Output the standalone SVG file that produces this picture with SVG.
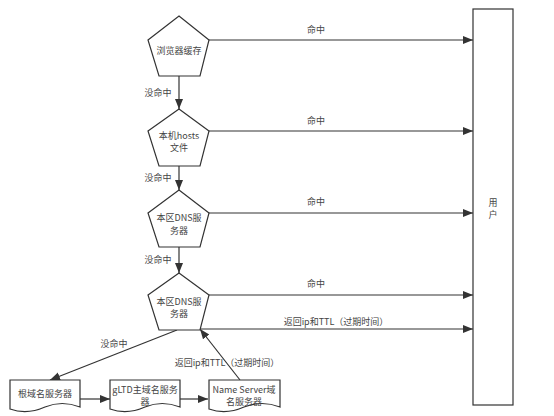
<svg xmlns="http://www.w3.org/2000/svg" width="554" height="416" viewBox="0 0 554 416">
<defs>
<marker id="ah" viewBox="0 0 10 10" refX="10" refY="5" markerWidth="10" markerHeight="10" markerUnits="userSpaceOnUse" orient="auto">
<path d="M0,1 L10,5 L0,9 Z" fill="#333"/>
</marker>
<style>
.shape{fill:#fff;stroke:#333;stroke-width:1.2}
.edge{fill:none;stroke:#333;stroke-width:1.2;marker-end:url(#ah)}
text{font-family:"Noto Sans CJK SC","Liberation Sans",sans-serif;font-size:9px;fill:#444;text-anchor:middle}
</style>
</defs>
<rect width="554" height="416" fill="#fff"/>
<g id="connectors">
<path class="edge" d="M209,40 H473"/>
<path class="edge" d="M179,76 V109"/>
<path class="edge" d="M209,131 H473"/>
<path class="edge" d="M179,166 V190"/>
<path class="edge" d="M209,213 H473"/>
<path class="edge" d="M179,247 V273"/>
<path class="edge" d="M209,295 H473"/>
<path class="edge" d="M200,329 H473"/>
<path class="edge" d="M177,330 L50,380"/>
<path class="edge" d="M80,399 H110"/>
<path class="edge" d="M180,399 H208"/>
<path class="edge" d="M240,380 L200,329"/>
<text x="316" y="33">命中</text>
<text x="316" y="124">命中</text>
<text x="316" y="205">命中</text>
<text x="316" y="287">命中</text>
<text x="158" y="96">没命中</text>
<text x="158" y="181">没命中</text>
<text x="158" y="263">没命中</text>
<text x="114" y="347">没命中</text>
<text x="336" y="325">返回ip和TTL（过期时间）</text>
<text x="227" y="366">返回ip和TTL（过期时间）</text>
</g>
<g id="user">
<rect class="shape" x="473" y="9" width="40" height="396"/>
<text x="493" y="206">用</text>
<text x="493" y="218">户</text>
</g>
<g id="browser-cache">
<polygon class="shape" points="179,16 209,40 200,76 159,76 148,40"/>
<text x="179" y="54">浏览器缓存</text>
</g>
<g id="hosts">
<polygon class="shape" points="179,109 209,131 200,166 159,166 148,131"/>
<text x="179" y="139">本机hosts</text>
<text x="179" y="151">文件</text>
</g>
<g id="local-dns-1">
<polygon class="shape" points="179,190 209,213 200,247 159,247 148,213"/>
<text x="179" y="221">本区DNS服</text>
<text x="179" y="234">务器</text>
</g>
<g id="local-dns-2">
<polygon class="shape" points="179,273 209,295 200,330 159,330 148,295"/>
<text x="179" y="305">本区DNS服</text>
<text x="179" y="317">务器</text>
</g>
<g id="root">
<path class="shape" d="M10,380 H80 V407 Q62,400 45,407 Q27,415 10,409 Z"/>
<text x="45" y="397">根域名服务器</text>
</g>
<g id="gltd">
<path class="shape" d="M110,380 H180 V407 Q162,400 145,407 Q127,415 110,409 Z"/>
<text x="145" y="393">gLTD主域名服务</text>
<text x="145" y="405">器</text>
</g>
<g id="nameserver">
<path class="shape" d="M209,380 H280 V407 Q262,400 244,407 Q226,415 209,409 Z"/>
<text x="244" y="393">Name Server域</text>
<text x="244" y="405">名服务器</text>
</g>
</svg>
